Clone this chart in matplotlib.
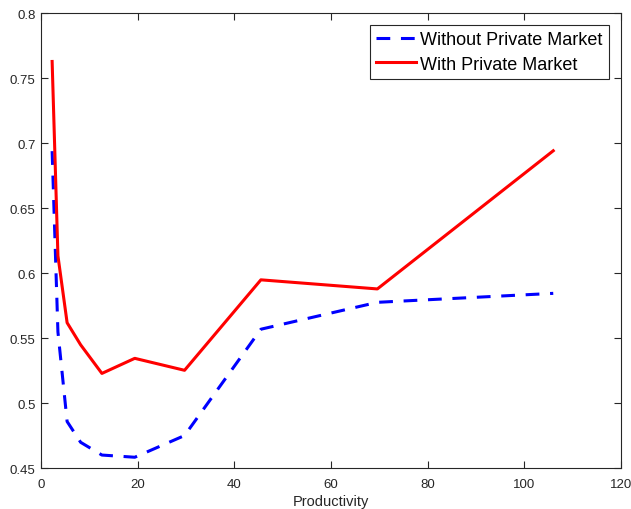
import matplotlib
matplotlib.use("Agg")
import matplotlib.pyplot as plt

plt.rcParams['font.family'] = ['Liberation Sans', 'DejaVu Sans']

productivity = [2.3, 3.5, 5.4, 8.2, 12.6, 19.4, 29.7, 45.5, 69.6, 106.0]
without_pm = [0.694, 0.555, 0.486, 0.470, 0.4602, 0.4585, 0.4752, 0.557, 0.5777, 0.5846]
with_pm = [0.763, 0.6135, 0.562, 0.545, 0.523, 0.5346, 0.5254, 0.595, 0.588, 0.6943]

xticks = [0, 20, 40, 60, 80, 100, 120]
yticks = [0.45, 0.5, 0.55, 0.6, 0.65, 0.7, 0.75, 0.8]
ytick_labels = ['0.45', '0.5', '0.55', '0.6', '0.65', '0.7', '0.75', '0.8']

fig = plt.figure(figsize=(6.31, 5.10), dpi=100)
ax = fig.add_axes([0.065, 0.0798, 0.919, 0.892])

ax.plot(productivity, without_pm, color='#0000ff', linewidth=2.2, dashes=(4.5, 3.5),
        label='Without Private Market')
ax.plot(productivity, with_pm, color='#ff0000', linewidth=2.2,
        label='With Private Market')

ax.set_xlim(0, 120)
ax.set_ylim(0.45, 0.8)
ax.set_xticks(xticks)
ax.set_xticklabels([str(t) for t in xticks])
ax.set_yticks(yticks)
ax.set_yticklabels(ytick_labels)

axcol = '#262626'
for s in ax.spines.values():
    s.set_color(axcol)
    s.set_linewidth(0.8)
ax.tick_params(direction='in', top=True, right=True, length=5, width=0.8,
               colors=axcol, labelsize=9.5, labelcolor=axcol)
ax.tick_params(axis='x', pad=7)
ax.tick_params(axis='y', pad=4)
ax.set_xlabel('Productivity', fontsize=10.5, color=axcol, labelpad=3)

leg = ax.legend(loc='upper right', fontsize=13, frameon=True, fancybox=False,
                edgecolor=axcol, framealpha=1, borderpad=0.35, labelspacing=0.4,
                handlelength=2.2, handletextpad=0.25, borderaxespad=0.65)
leg.get_frame().set_linewidth(0.8)

fig.savefig('out.png', dpi=100)
